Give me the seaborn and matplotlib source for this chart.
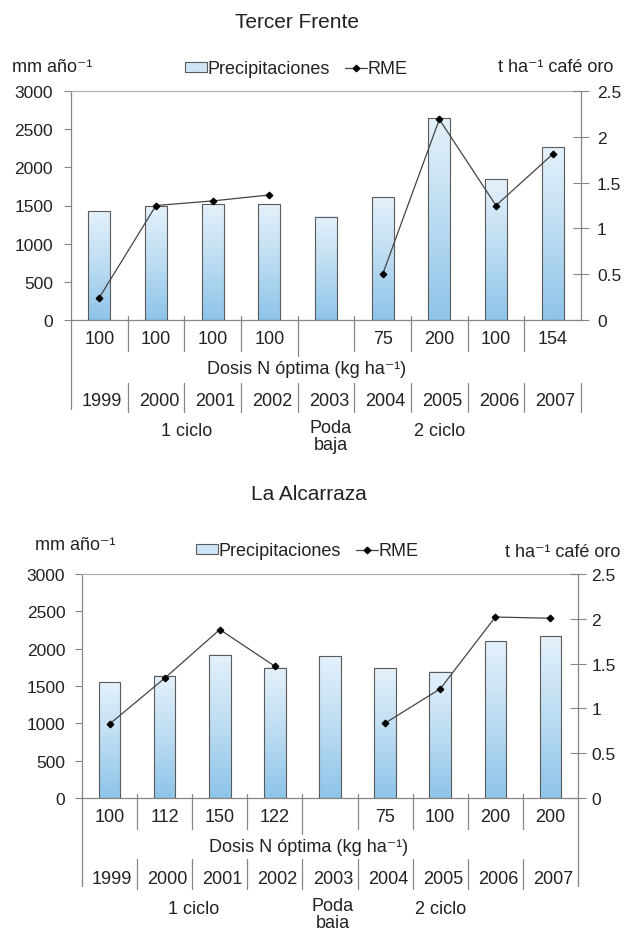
import matplotlib
matplotlib.use("Agg")
import matplotlib.pyplot as plt
from matplotlib.colors import LinearSegmentedColormap
from matplotlib.patches import Patch
from matplotlib.lines import Line2D
import numpy as np
import pandas as pd
import seaborn as sns

# datos
years = ["1999", "2000", "2001", "2002", "2003", "2004", "2005", "2006", "2007"]

tf_precip = [1423, 1489, 1518, 1518, 1355, 1605, 2645, 1844, 2264]
tf_rme = [0.245, 1.25, 1.30, 1.365, np.nan, 0.50, 2.19, 1.25, 1.81]
tf_dosis = ["100", "100", "100", "100", "", "75", "200", "100", "154"]

la_precip = [1551, 1640, 1917, 1747, 1899, 1738, 1689, 2100, 2166]
la_rme = [0.825, 1.337, 1.88, 1.47, np.nan, 0.836, 1.218, 2.02, 2.006]
la_dosis = ["100", "112", "150", "122", "", "75", "100", "200", "200"]

sns.set_style("white")
plt.rcParams['font.family'] = ['Liberation Sans', 'DejaVu Sans']
TXT = '#222222'
AXC = '#868686'
FS = 13
TFS = 12.5

grad = LinearSegmentedColormap.from_list('g', ['#8ec4e9', '#bcdcf2', '#e4f1fb'])

fig = plt.figure(figsize=(6.24, 9.29), dpi=100)


def px(v):
    return v / 624


def py(v):
    return 1 - v / 929


def draw_chart(rect, title, title_xy, precip, rme, dosis, pos):
    l, t, r, b = rect
    ax = fig.add_axes([px(l), py(b), px(r - l), (b - t) / 929])
    h = b - t
    df = pd.DataFrame({'anio': years, 'precip': precip})
    sns.barplot(data=df, x='anio', y='precip', ax=ax, width=0.39,
                color='#bcdcf2', edgecolor='#5a5a5a', linewidth=0.8)
    # degradado en cada barra
    for p in ax.patches:
        x0, y0 = p.get_x(), p.get_y()
        w, hh = p.get_width(), p.get_height()
        ax.imshow(np.linspace(0, 1, 100).reshape(-1, 1), extent=[x0, x0 + w, y0, y0 + hh],
                  origin='lower', cmap=grad, aspect='auto', zorder=2)
        p.set_facecolor('none')
        p.set_zorder(3)
    ax.set_xlim(-0.5, 8.5)
    ax.set_ylim(0, 3000)
    ax.set_yticks(np.arange(0, 3001, 500))
    ax.set_xticks([])
    ax.set_xlabel('')
    ax.set_ylabel('')
    ax.tick_params(axis='y', direction='out', length=5, width=0.8, color=AXC,
                   pad=pos['lpad'], labelsize=TFS, labelcolor=TXT, left=True)
    for s in ['left', 'bottom', 'top']:
        ax.spines[s].set_color(AXC)
        ax.spines[s].set_linewidth(0.9)
    ax.spines['top'].set_color('#b0b0b0')
    ax.spines['right'].set_visible(False)

    ax2 = ax.twinx()
    ax2.plot(np.arange(len(years)), rme, color='#444444', lw=0.9, marker='D',
             ms=3.3, mfc='black', mec='black', zorder=5)
    ax2.set_ylim(0, 2.5)
    ax2.set_yticks(np.arange(0, 2.51, 0.5))
    ax2.set_yticklabels(['0', '0.5', '1', '1.5', '2', '2.5'])
    ax2.tick_params(axis='y', direction='inout', length=11, width=0.8, color=AXC,
                    pad=pos['rpad'], labelsize=TFS, labelcolor=TXT, right=True)
    for s in ['left', 'bottom', 'top']:
        ax2.spines[s].set_visible(False)
    ax2.spines['right'].set_color(AXC)
    ax2.spines['right'].set_linewidth(0.9)

    tr = ax.get_xaxis_transform()

    def fy(d):
        return -d / h

    # tabla bajo el eje
    for k in range(len(years) - 1):
        xb = k + 0.5
        end = 36 if k == 3 else 31
        ax.plot([xb, xb], [fy(-4), fy(end)], transform=tr, color=AXC, lw=0.9, clip_on=False)
        ax.plot([xb, xb], [fy(pos['yr0']), fy(pos['yr1'])], transform=tr, color=AXC, lw=0.9, clip_on=False)
    ax.plot([-0.5, -0.5], [0, fy(pos['yr1'] - 3)], transform=tr, color=AXC, lw=0.9, clip_on=False)
    if pos['right_full']:
        ax.plot([8.5, 8.5], [0, fy(pos['yr1'] - 3)], transform=tr, color=AXC, lw=0.9, clip_on=False)
    else:
        ax.plot([8.5, 8.5], [fy(pos['yr0']), fy(pos['yr1'])], transform=tr, color=AXC, lw=0.9, clip_on=False)

    for i, (d, yv) in enumerate(zip(dosis, years)):
        ax.text(i, fy(19), d, transform=tr, ha='center', va='center', fontsize=FS, color=TXT)
        ax.text(i + 0.05, fy(pos['yr_txt']), yv, transform=tr, ha='center', va='center',
                fontsize=FS, color=TXT)
    ax.text(pos['dosis_x'], fy(49), 'Dosis N óptima (kg ha⁻¹)', transform=tr,
            ha='center', va='center', fontsize=FS, color=TXT)
    ax.text(pos['c1'], fy(111), '1 ciclo', transform=tr, ha='center', va='center', fontsize=FS, color=TXT)
    ax.text(pos['c2'], fy(111), '2 ciclo', transform=tr, ha='center', va='center', fontsize=FS, color=TXT)
    ax.text(pos['poda'], fy(116), 'Poda\nbaja', transform=tr, ha='center', va='center',
            fontsize=FS, color=TXT, linespacing=1.05)

    # títulos y etiquetas de ejes
    fig.text(px(title_xy[0]), py(title_xy[1]), title, ha='center', va='center', fontsize=15, color=TXT)
    fig.text(px(pos['mm'][0]), py(pos['mm'][1]), 'mm año⁻¹', ha='left', va='center',
             fontsize=FS, color=TXT)
    fig.text(px(pos['tha'][0]), py(pos['tha'][1]), 't ha⁻¹ café oro', ha='right',
             va='center', fontsize=FS, color=TXT)

    handles = [Patch(facecolor='#cfe5f6', edgecolor='#5a5a5a', linewidth=0.8, label='Precipitaciones'),
               Line2D([], [], color='#444444', lw=0.9, marker='D', ms=3.3, mfc='black', mec='black',
                      label='RME')]
    fig.legend(handles=handles, loc='center left', bbox_to_anchor=(px(pos['leg'][0]), py(pos['leg'][1])),
               ncol=2, frameon=False, fontsize=FS, handlelength=1.2, handleheight=0.4,
               handletextpad=0.05, columnspacing=0.85, borderpad=0, borderaxespad=0,
               labelcolor=TXT)
    return ax


draw_chart((71, 92, 581, 321), 'Tercer Frente', (297, 23), tf_precip, tf_rme, tf_dosis,
           dict(lpad=8, rpad=6, yr0=63, yr1=92, yr_txt=81, right_full=False, dosis_x=3.66,
                c1=1.54, c2=6.0, poda=4.08, mm=(12, 68), tha=(613, 68), leg=(185, 70)))
draw_chart((82, 575, 578, 799), 'La Alcarraza', (309, 495), la_precip, la_rme, la_dosis,
           dict(lpad=7, rpad=4, yr0=61, yr1=91, yr_txt=81, right_full=True, dosis_x=3.62,
                c1=1.53, c2=6.0, poda=4.05, mm=(35, 546), tha=(620, 553), leg=(196, 552)))

plt.savefig('out.png', dpi=100)
